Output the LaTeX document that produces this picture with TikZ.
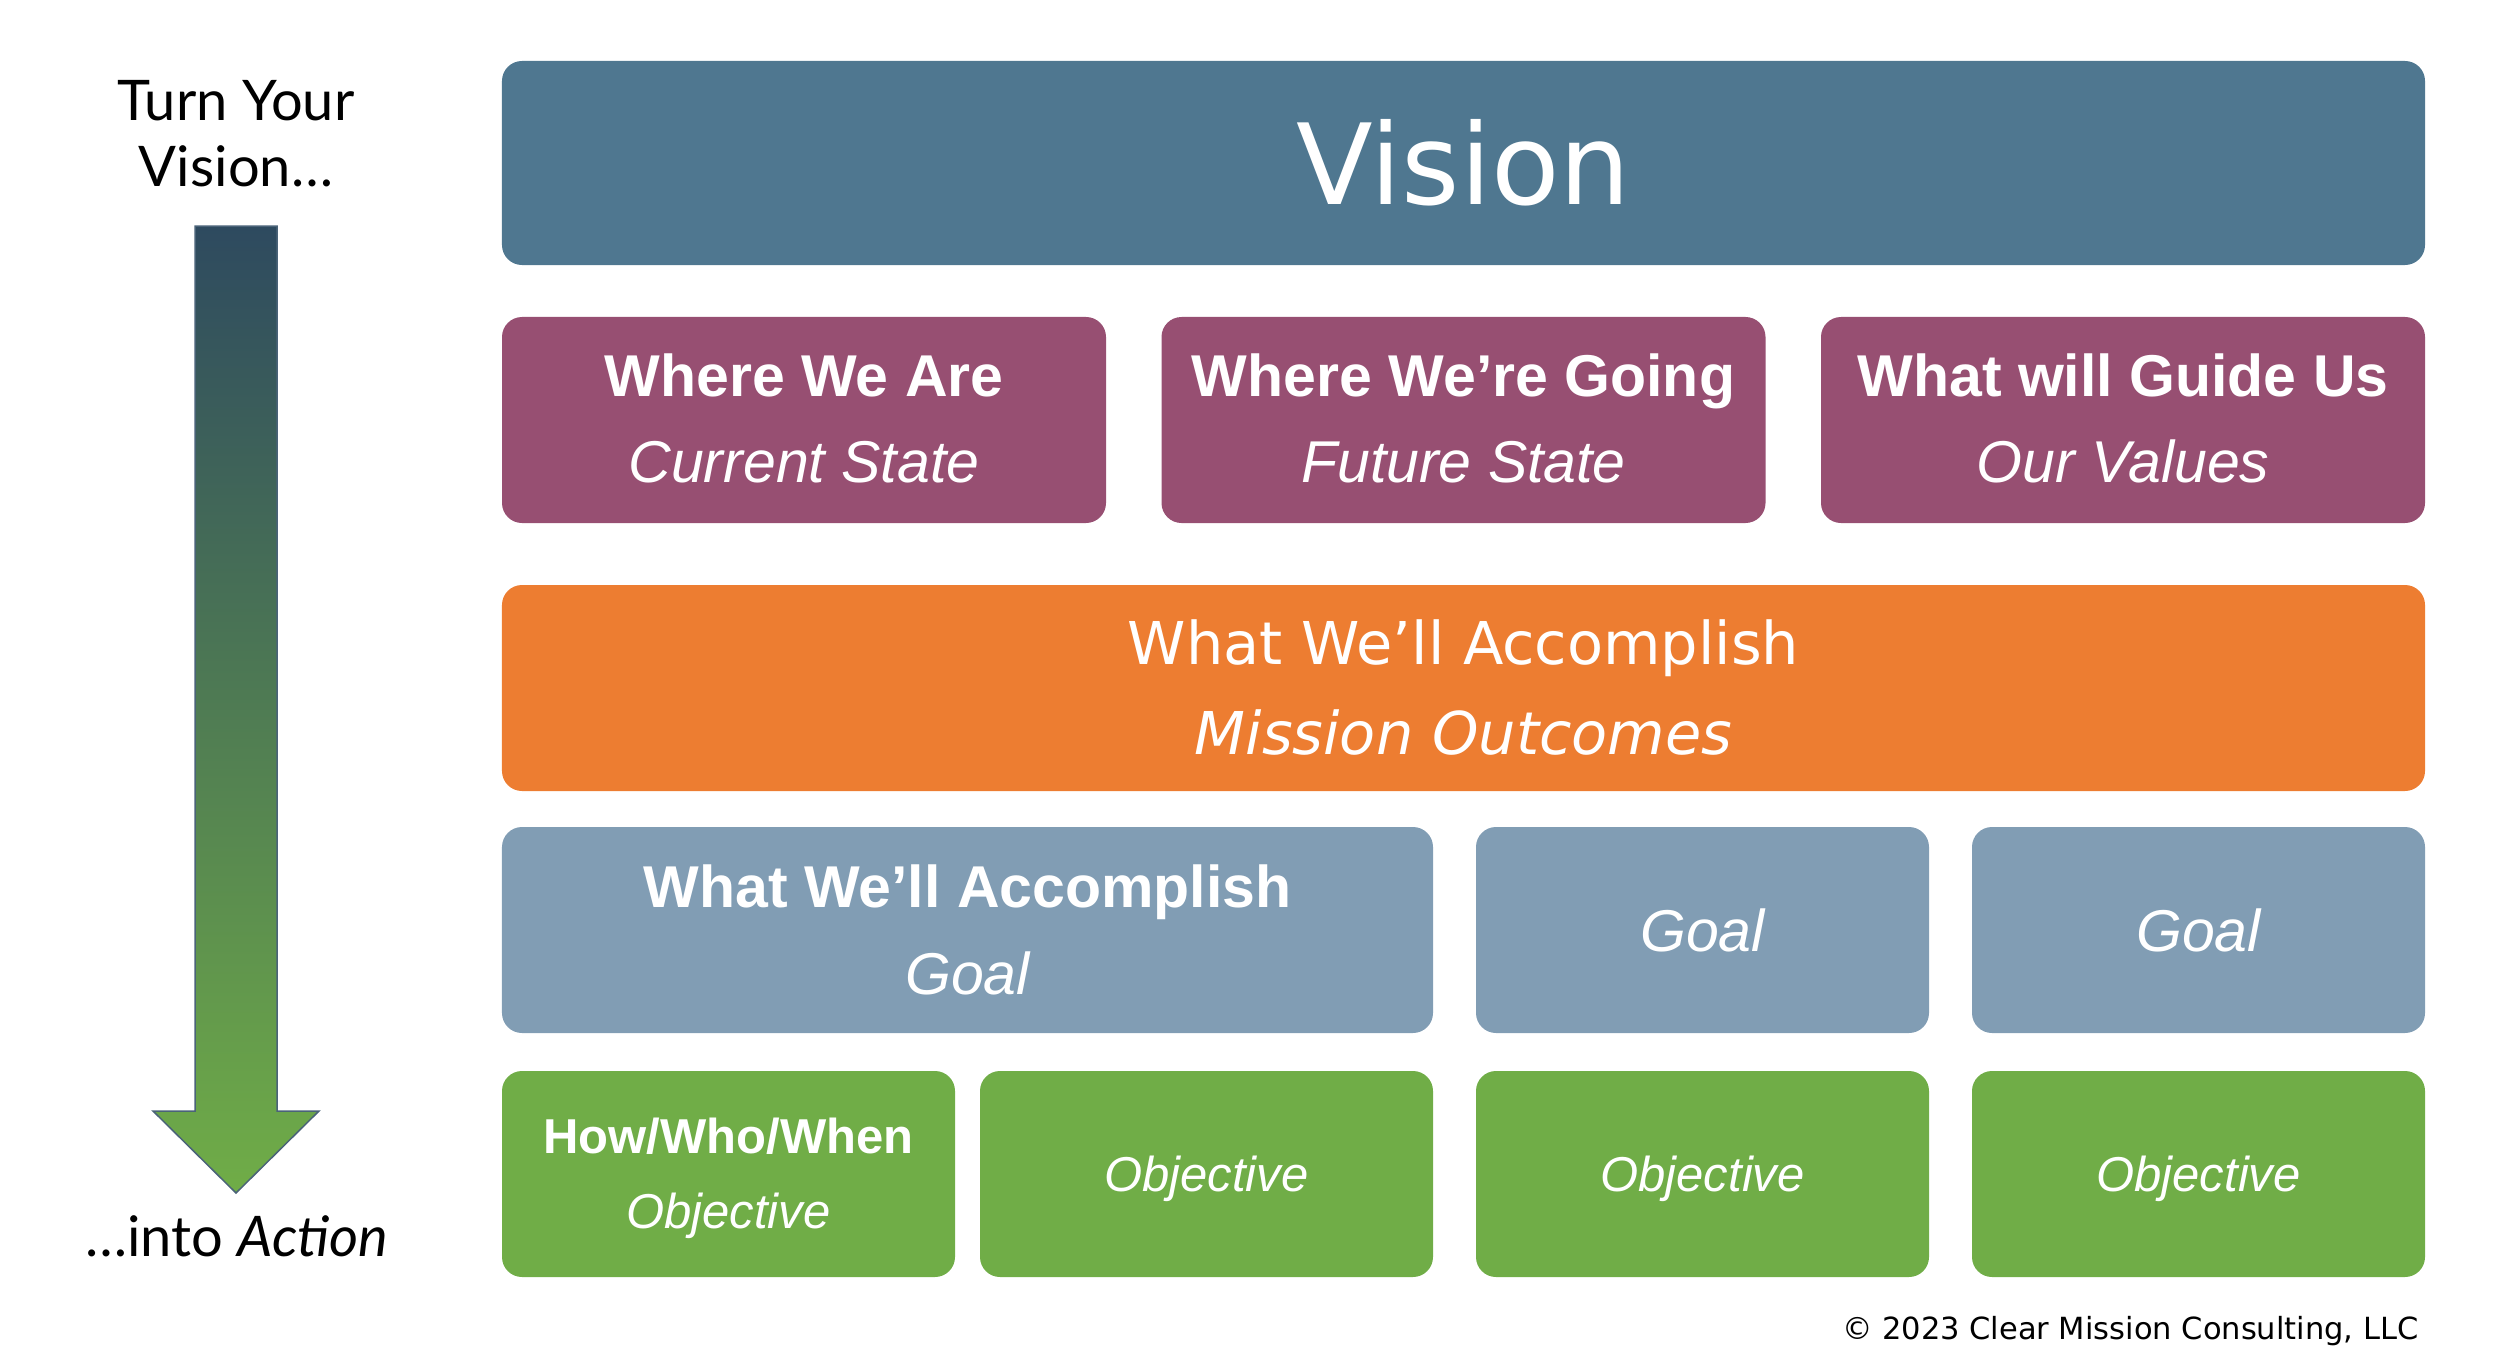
\documentclass[tikz,border=0pt]{standalone}
\usepackage{fontspec}
\setmainfont{Liberation Sans}
\newfontfamily\dejavu{DejaVu Sans}
\newfontfamily\latofont{Lato}
\definecolor{visionc}{HTML}{4F7790}
\definecolor{purplec}{HTML}{974F72}
\definecolor{orangec}{HTML}{ED7D31}
\definecolor{goalc}{HTML}{819DB4}
\definecolor{objc}{HTML}{70AD47}
\definecolor{arrtop}{HTML}{2E4A5F}
\definecolor{arrline}{HTML}{4A6378}
\begin{document}
\begin{tikzpicture}[x=0.4pt,y=-0.4pt,
  card/.style={rounded corners=8pt, inner sep=0pt, minimum height=82.4pt},
  wtxt/.style={anchor=base, text=white, inner sep=0pt},
  big/.style={font=\fontsize{23.6pt}{28pt}\selectfont\bfseries},
  bigit/.style={font=\fontsize{23.6pt}{28pt}\selectfont\itshape},
  small/.style={font=\fontsize{19.6pt}{24pt}\selectfont\bfseries},
  smallit/.style={font=\fontsize{19.6pt}{24pt}\selectfont\itshape},
  side/.style={anchor=base, inner sep=0pt, font=\latofont\fontsize{22.4pt}{26pt}\selectfont}
]
\useasboundingbox (0,0) rectangle (2500,1372);

% arrow
\shade[top color=arrtop, bottom color=objc]
  (195,226) -- (277,226) -- (277,1111) -- (319,1111) -- (236,1193) -- (153,1111) -- (195,1111) -- cycle;
\draw[arrline, line width=0.6pt, line join=miter]
  (195,226) -- (277,226) -- (277,1111) -- (319,1111) -- (236,1193) -- (153,1111) -- (195,1111) -- cycle;

\node[side] (turn) at (236,120) {Turn Your};
\node[side] (vis) at (236,186) {Vision…};
\node[side] (act) at (237,1256) {…into \textit{Action}};

% vision
\node[card, fill=visionc, minimum width=769.2pt, minimum height=81.6pt] (vision) at (1463.5,163) {};
\node[wtxt, font=\dejavu\fontsize{44.8pt}{50pt}\selectfont] (visiont) at (1463.5,204) {Vision};

% purple row
\node[card, fill=purplec, minimum width=241.6pt] (p1) at (804,420) {};
\node[card, fill=purplec, minimum width=241.6pt] (p2) at (1463.5,420) {};
\node[card, fill=purplec, minimum width=241.6pt] (p3) at (2123,420) {};
\node[wtxt, big] (p1a) at (804,396) {Where We Are};
\node[wtxt, bigit] (p1b) at (804,482) {Current State};
\node[wtxt, big] (p2a) at (1463.5,396) {Where We’re Going};
\node[wtxt, bigit] (p2b) at (1463.5,482) {Future State};
\node[wtxt, big] (p3a) at (2123,396) {What will Guide Us};
\node[wtxt, bigit] (p3b) at (2123,482) {Our Values};

% orange
\node[card, fill=orangec, minimum width=769.2pt] (mission) at (1463.5,688) {};
\node[wtxt, font=\dejavu\fontsize{23.6pt}{28pt}\selectfont] (ma) at (1463.5,664) {What We’ll Accomplish};
\node[wtxt, font=\dejavu\fontsize{23.6pt}{28pt}\selectfont\itshape] (mb) at (1463.5,754) {Mission Outcomes};

% goals
\node[card, fill=goalc, minimum width=372.4pt] (g1) at (967.5,930) {};
\node[card, fill=goalc, minimum width=181.2pt] (g2) at (1702.5,930) {};
\node[card, fill=goalc, minimum width=181.2pt] (g3) at (2198.5,930) {};
\node[wtxt, big] (g1a) at (967.5,907) {What We’ll Accomplish};
\node[wtxt, bigit] (g1b) at (967.5,994) {Goal};
\node[wtxt, bigit] (g2a) at (1702.5,951) {Goal};
\node[wtxt, bigit] (g3a) at (2198.5,951) {Goal};

% objectives
\node[card, fill=objc, minimum width=181.2pt] (o1) at (728.5,1174) {};
\node[card, fill=objc, minimum width=181.2pt] (o2) at (1206.5,1174) {};
\node[card, fill=objc, minimum width=181.2pt] (o3) at (1702.5,1174) {};
\node[card, fill=objc, minimum width=181.2pt] (o4) at (2198.5,1174) {};
\node[wtxt, small] (o1a) at (728.5,1153) {How/Who/When};
\node[wtxt, smallit] (o1b) at (728.5,1228) {Objective};
\node[wtxt, smallit] (o2a) at (1206.5,1191) {Objective};
\node[wtxt, smallit] (o3a) at (1702.5,1191) {Objective};
\node[wtxt, smallit] (o4a) at (2198.5,1191) {Objective};

\node[anchor=base east, inner sep=0pt, font=\dejavu\fontsize{12.2pt}{14pt}\selectfont] (copy) at (2419,1339) {© 2023 Clear Mission Consulting, LLC};
\end{tikzpicture}
\end{document}
